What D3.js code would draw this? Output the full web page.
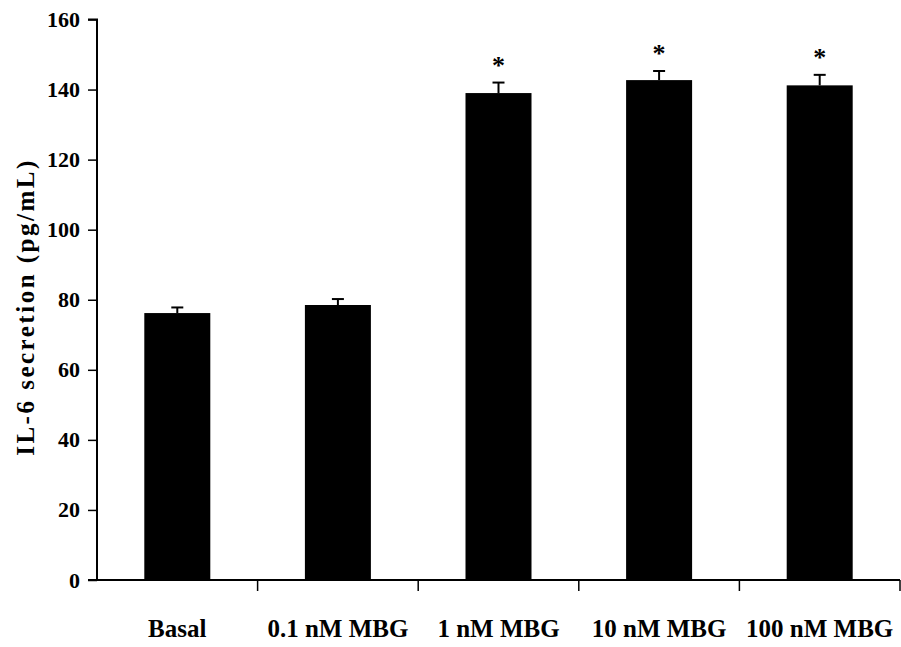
<!DOCTYPE html>
<html><head><meta charset="utf-8">
<script src="https://cdn.jsdelivr.net/npm/d3@7/dist/d3.min.js"></script>
<style>body{margin:0;background:#fff}svg{display:block}text{font-family:"Liberation Serif","Times New Roman",serif;font-weight:bold;fill:#000}</style>
</head><body>
<script>
const categories = ["Basal", "0.1 nM MBG", "1 nM MBG", "10 nM MBG", "100 nM MBG"];
const values = [76.2, 78.5, 139.0, 142.7, 141.2];
const errors = [1.6, 1.7, 3.0, 2.6, 3.0];
const significant = [false, false, true, true, true];
const yTicks = [0, 20, 40, 60, 80, 100, 120, 140, 160];

const W = 901, H = 647;
const svg = d3.select("body").append("svg").attr("width", W).attr("height", H);
const x0 = 97, x1 = 900, yTop = 19.5, yBot = 580;
const x = d3.scaleBand().domain(categories).range([x0, x1]).paddingInner(0).paddingOuter(0);
const y = d3.scaleLinear().domain([0, 160]).range([yBot, yTop]);
const bw = 66;

// bars
svg.selectAll("rect.bar").data(categories).enter().append("rect")
  .attr("x", d => x(d) + x.bandwidth()/2 - bw/2)
  .attr("y", (d,i) => y(values[i]))
  .attr("width", bw)
  .attr("height", (d,i) => y(0) - y(values[i]))
  .attr("fill", "#000");

// error bars
categories.forEach((c,i) => {
  const cx = x(c) + x.bandwidth()/2;
  svg.append("line").attr("x1", cx).attr("x2", cx).attr("y1", y(values[i])).attr("y2", y(values[i]+errors[i])).attr("stroke","#000").attr("stroke-width",2);
  svg.append("line").attr("x1", cx-6).attr("x2", cx+6).attr("y1", y(values[i]+errors[i])).attr("y2", y(values[i]+errors[i])).attr("stroke","#000").attr("stroke-width",2);
  if (significant[i]) {
    svg.append("text").attr("x", cx).attr("y", y(values[i]+errors[i]) - 9)
      .attr("text-anchor","middle").style("font-size","26px").attr("fill","#222").text("*");
  }
});

// y axis
const yAxis = d3.axisLeft(y).tickValues(yTicks).tickSize(9).tickPadding(8);
const gy = svg.append("g").attr("transform", `translate(${x0},0)`).call(yAxis);
gy.select(".domain").attr("stroke","#000").attr("stroke-width",2).attr("d", `M-9,${yTop}H0V${yBot}H-9`);
gy.selectAll(".tick line").attr("stroke","#000").attr("stroke-width",1.5);
gy.selectAll(".tick text").style("font-size","22px").style("font-family","'Liberation Serif',serif").style("font-weight","bold").attr("fill","#000");

// x axis
svg.append("line").attr("x1", x0).attr("x2", x1).attr("y1", yBot).attr("y2", yBot).attr("stroke","#000").attr("stroke-width",2);
const bounds = categories.map(c => x(c) + x.bandwidth());
svg.selectAll("line.xt").data(bounds).enter().append("line")
  .attr("x1", d => d).attr("x2", d => d).attr("y1", yBot).attr("y2", yBot + 11)
  .attr("stroke","#000").attr("stroke-width",1.5);
svg.selectAll("text.xl").data(categories).enter().append("text")
  .attr("x", d => x(d) + x.bandwidth()/2).attr("y", 637)
  .attr("text-anchor","middle").style("font-size","25px").text(d => d);

// y title
svg.append("text").attr("transform", "translate(34,307) rotate(-90)")
  .attr("text-anchor","middle").style("font-size","25px").style("letter-spacing","2.5px")
  .text("IL-6 secretion (pg/mL)");
</script>
</body></html>
